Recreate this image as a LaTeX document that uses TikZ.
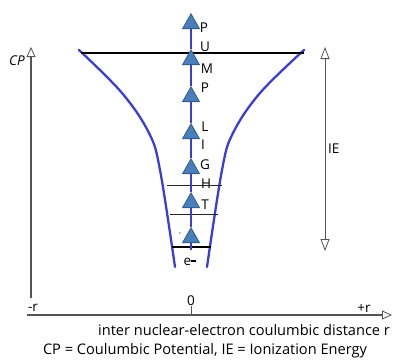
\documentclass[tikz,border=0pt]{standalone}
\usepackage{fontspec}
\setmainfont{Open Sans}
\usetikzlibrary{arrows.meta, positioning}
\definecolor{funnelblue}{HTML}{3B3FD0}
\definecolor{trifill}{HTML}{4A7EBB}
\definecolor{triedge}{HTML}{2F5D8C}
\definecolor{axisgray}{HTML}{555555}

\begin{document}
\begin{tikzpicture}[x=1pt, y=-1pt,
    axisline/.style={draw=axisgray, line width=1.3pt},
    opentip/.style={-{Triangle[open, length=10pt, width=9pt, line width=0.8pt]}},
    funnel/.style={draw=funnelblue, line width=2.3pt, line cap=round},
    chainseg/.style={draw=funnelblue, line width=2.4pt,
      -{Triangle[length=16pt, width=18pt, fill=trifill, color=triedge, line width=0.8pt]}},
    rung/.style={draw=black!85, line width=0.8pt},
    bar/.style={draw=black, line width=2.8pt},
    lab/.style={inner sep=0pt, font=\fontsize{13.5}{14}\selectfont},
    caption/.style={inner sep=0pt, font=\fontsize{14.6}{15}\selectfont},
  ]
  \useasboundingbox (0,0) rectangle (393,360);

  % axes
  \coordinate (cpbot) at (31,298);
  \coordinate (cptop) at (31,47);
  \draw[axisline, opentip] (cpbot) -- (cptop);
  \node[lab] (cp) at (17,61) {\itshape CP};

  \coordinate (rleft) at (27,315);
  \coordinate (rright) at (392,315);
  \draw[axisline, opentip] (rleft) -- (rright);
  \coordinate (origin) at (191,315);
  \node[lab] (zero) at (191,301) {0};
  \draw[axisline, line width=1pt] (zero.south) -- (origin);
  \node[lab] (rneg) at (33,308) {-r};
  \node[lab] (rpos) at (364,308) {+r};

  % funnel walls
  \draw[funnel] plot[smooth, tension=0.6] coordinates {(79,50) (122,93) (149,133) (160,170) (175,267)};
  \draw[funnel] plot[smooth, tension=0.6] coordinates {(304,50) (260,93) (233,133) (222,170) (207,267)};

  % levels
  \draw[bar] (81,53) -- (304,53);
  \draw[rung] (167,185) -- (222,185);
  \draw[rung] (170,214) -- (218,214);
  \draw[bar] (172,247) -- (211,247);

  % pumping chain
  \coordinate (b0) at (191,250);
  \coordinate (a1) at (191,227);
  \coordinate (a2) at (191,192);
  \coordinate (a3) at (191,158);
  \coordinate (a4) at (191,123);
  \coordinate (a5) at (191,86);
  \coordinate (a6) at (191,49);
  \coordinate (a7) at (191,13);
  \draw[chainseg] (b0) -- (a1);
  \draw[chainseg] (a1) -- (a2);
  \draw[chainseg] (a2) -- (a3);
  \draw[chainseg] (a3) -- (a4);
  \draw[chainseg] (a4) -- (a5);
  \draw[chainseg] (a5) -- (a6);
  \draw[chainseg] (a6) -- (a7);

  \node[lab] (l1) at (204,28) {P};
  \node[lab] (l2) at (205,47) {U};
  \node[lab] (l3) at (207,69) {M};
  \node[lab] (l4) at (205,88) {P};
  \node[lab] (l5) at (205,127) {L};
  \node[lab] (l6) at (203,145) {I};
  \node[lab] (l7) at (205,165) {G};
  \node[lab] (l8) at (206,184) {H};
  \node[lab] (l9) at (205,205) {T};
  \node[lab, font=\scriptsize] (l0) at (180,235) {‘};
  \node[lab] (elec) at (190,262) {e\raisebox{0.5ex}{\rule{0.4em}{1.8pt}}};

  % ionization energy
  \coordinate (iebot) at (325,251);
  \coordinate (ietop) at (325,47);
  \draw[draw=axisgray, line width=0.9pt, {Triangle[open, length=12pt, width=9pt, line width=0.8pt]}-{Triangle[open, length=12pt, width=9pt, line width=0.8pt]}] (iebot) -- (ietop);
  \node[lab, anchor=west] (ie) at (328,149) {IE};

  % captions
  \node[caption] (xlabel) at (244,330) {inter nuclear-electron coulumbic distance r};
  \node[caption] (legend) at (205,351) {CP = Coulumbic Potential, IE = Ionization Energy};
\end{tikzpicture}
\end{document}
